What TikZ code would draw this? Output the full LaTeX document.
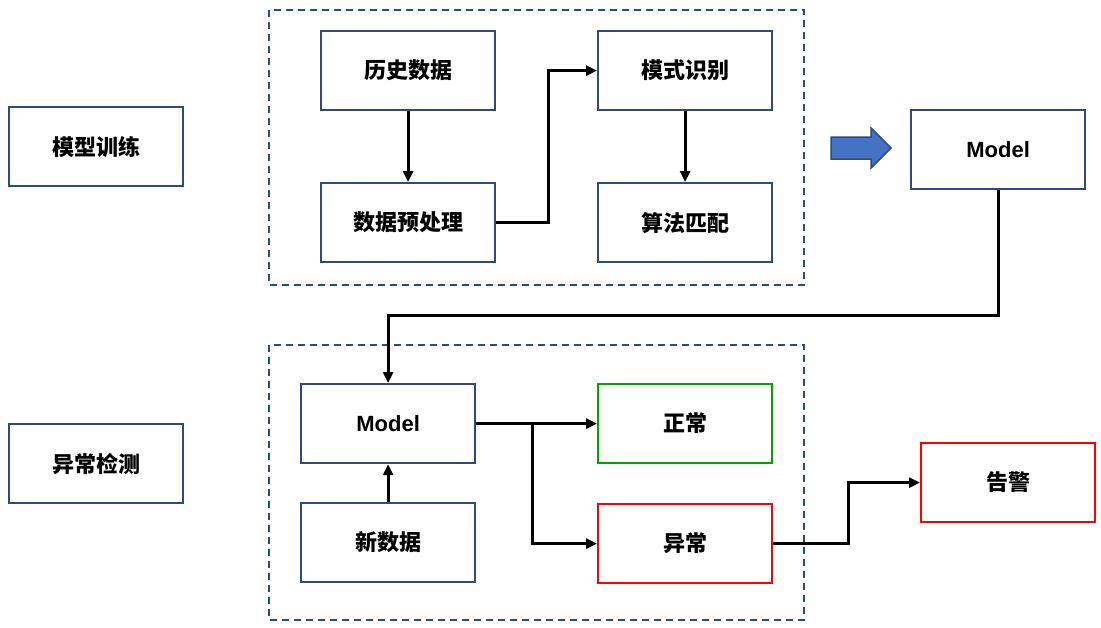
\documentclass[tikz,border=0pt]{standalone}
\usepackage{fontspec}
\setmainfont{Liberation Sans}
\newfontfamily\cjk{Noto Sans CJK SC}
\usetikzlibrary{arrows.meta}
\definecolor{bd}{HTML}{2F4B7C}
\definecolor{ar}{HTML}{4472C4}
\begin{document}
\begin{tikzpicture}[x=1pt,y=-1pt,
 box/.style={draw=bd,line width=2.2pt,minimum width=174pt,minimum height=79pt,font=\cjk\bfseries\fontsize{22}{24}\selectfont,anchor=north west,inner sep=0pt},
 dbox/.style={draw=bd,line width=2pt,dash pattern=on 7pt off 5pt},
 con/.style={line width=3pt,-{Triangle[length=11pt,width=10pt]}}]
\useasboundingbox (0,0) rectangle (1101,627);
\draw[dbox] (269,10) rectangle (804,285);
\draw[dbox] (269,345) rectangle (804,620);
\node[box] (train) at (8,106) {模型训练};
\node[box] (detect) at (8,423) {异常检测};
\node[box] (hist) at (320,30) {历史数据};
\node[box] (pre) at (320,182) {数据预处理};
\node[box] (mode) at (597,30) {模式识别};
\node[box] (alg) at (597,182) {算法匹配};
\node[box,font=\bfseries\fontsize{22}{24}\selectfont] (m1) at (910,109) {Model};
\node[box,font=\bfseries\fontsize{22}{24}\selectfont] (m2) at (300,383) {Model};
\node[box] (new) at (300,502) {新数据};
\node[box,draw=green!65!black] (ok) at (597,383) {正常};
\node[box,draw=red] (bad) at (597,503) {异常};
\node[box,draw=red] (alarm) at (920,442) {告警};
\draw[fill=ar,draw=bd,line width=1.5pt] (831,137) -- (871,137) -- (871,128) -- (891,148) -- (871,168) -- (871,159) -- (831,159) -- cycle;
\draw[con] (hist) -- (pre);
\draw[con] (pre.east) -- ++(52,0) |- (mode.west);
\draw[con] (mode) -- (alg);
\draw[con] (m1.south) -- ++(0,125) -| (m2.north);
\draw[con] (new) -- (m2);
\draw[con] (m2.east) -- (ok.west);
\coordinate (br) at (532,422);
\draw[con] (br) |- (bad.west);
\draw[con] (bad.east) -- ++(75,0) |- (alarm.west);
\end{tikzpicture}
\end{document}
